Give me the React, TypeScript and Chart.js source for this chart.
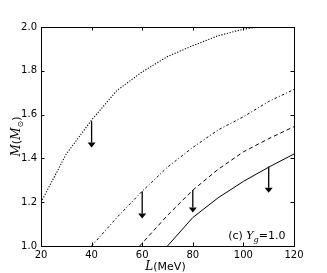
import React, { useEffect, useRef } from "react";
import { Chart, registerables } from "chart.js";

Chart.register(...registerables);

// Curve data: L (MeV) vs M (M_sun)
const dottedL = [20, 30, 40, 50, 60, 70, 80, 90, 100, 106];
const dottedM = [1.2, 1.42, 1.575, 1.71, 1.795, 1.865, 1.915, 1.96, 1.99, 2.0];

const dashDotL = [40, 50, 60, 70, 80, 90, 100, 110, 120];
const dashDotM = [1.0, 1.13, 1.25, 1.36, 1.45, 1.53, 1.59, 1.66, 1.715];

const dashedL = [59, 70, 80, 90, 100, 110, 120];
const dashedM = [1.0, 1.14, 1.255, 1.35, 1.43, 1.49, 1.545];

const solidL = [70, 80, 90, 100, 110, 120];
const solidM = [1.0, 1.13, 1.22, 1.295, 1.36, 1.42];

// Downward arrows (upper limits)
const arrowL = [40, 60, 80, 110];
const arrowFrom = [1.57, 1.25, 1.256, 1.362];
const arrowTo = [1.45, 1.126, 1.153, 1.243];

const xTicks = [20, 40, 60, 80, 100, 120];
const yTicks = [1.0, 1.2, 1.4, 1.6, 1.8, 2.0];

const pts = (xs: number[], ys: number[]) => xs.map((x, i) => ({ x, y: ys[i] }));

const SANS = '"DejaVu Sans"';
const SERIF = '"DejaVu Serif"';

const decorPlugin = {
  id: "decor",
  afterDatasetsDraw(chart: any) {
    const ctx = chart.ctx as CanvasRenderingContext2D;
    const xs = chart.scales.x;
    const ys = chart.scales.y;
    const { left, right, top, bottom } = chart.chartArea;
    ctx.save();
    // arrows
    ctx.strokeStyle = "#000";
    ctx.fillStyle = "#000";
    ctx.lineWidth = 1.3;
    arrowL.forEach((L, i) => {
      const x = xs.getPixelForValue(L);
      const y0 = ys.getPixelForValue(arrowFrom[i]);
      const y1 = ys.getPixelForValue(arrowTo[i]);
      const hh = 5;
      const hw = 4;
      ctx.beginPath();
      ctx.moveTo(x, y0);
      ctx.lineTo(x, y1 - hh);
      ctx.stroke();
      ctx.beginPath();
      ctx.moveTo(x - hw, y1 - hh);
      ctx.lineTo(x + hw, y1 - hh);
      ctx.lineTo(x, y1);
      ctx.closePath();
      ctx.fill();
    });
    // frame
    ctx.lineWidth = 1;
    ctx.strokeStyle = "#000";
    ctx.strokeRect(Math.round(left) + 0.5, Math.round(top) + 0.5, Math.round(right - left), Math.round(bottom - top));
    // inward ticks
    const tl = 3.5;
    ctx.beginPath();
    xTicks.forEach((v) => {
      const x = Math.round(xs.getPixelForValue(v)) + 0.5;
      ctx.moveTo(x, bottom);
      ctx.lineTo(x, bottom - tl);
      ctx.moveTo(x, top);
      ctx.lineTo(x, top + tl);
    });
    yTicks.forEach((v) => {
      const y = Math.round(ys.getPixelForValue(v)) + 0.5;
      ctx.moveTo(left, y);
      ctx.lineTo(left + tl, y);
      ctx.moveTo(right, y);
      ctx.lineTo(right - tl, y);
    });
    ctx.stroke();

    // annotation "(c) Y_g=1.0"
    ctx.fillStyle = "#000";
    ctx.textBaseline = "alphabetic";
    ctx.textAlign = "left";
    let ax = xs.getPixelForValue(94);
    const ab = ys.getPixelForValue(1.03);
    ctx.font = `11px ${SANS}`;
    ctx.fillText("(c) ", ax, ab);
    ax += ctx.measureText("(c) ").width;
    ctx.font = `italic 11px ${SERIF}`;
    ctx.fillText("Y", ax, ab);
    ax += ctx.measureText("Y").width;
    ctx.font = `italic 8px ${SERIF}`;
    ctx.fillText("g", ax, ab + 3);
    ax += ctx.measureText("g").width;
    ctx.font = `11px ${SANS}`;
    ctx.fillText("=1.0", ax, ab);

    // x axis title "L(MeV)"
    const cx = (left + right) / 2 - 2;
    const xb = 270;
    ctx.font = `italic 12px ${SERIF}`;
    const wL = ctx.measureText("L").width;
    ctx.font = `11px ${SANS}`;
    const wR = ctx.measureText("(MeV)").width;
    let tx = cx - (wL + wR) / 2;
    ctx.font = `italic 12px ${SERIF}`;
    ctx.fillText("L", tx, xb);
    tx += wL;
    ctx.font = `11px ${SANS}`;
    ctx.fillText("(MeV)", tx, xb);

    // y axis title "M(M_sun)"
    ctx.save();
    ctx.translate(20, (top + bottom) / 2);
    ctx.rotate(-Math.PI / 2);
    const parts: [string, string, number][] = [
      ["M", `italic 12px ${SERIF}`, 0],
      ["(", `11px ${SANS}`, 0],
      ["M", `italic 12px ${SERIF}`, 0],
      ["\u2299", `8px ${SANS}`, 3],
      [")", `11px ${SANS}`, 0],
    ];
    let total = 0;
    parts.forEach(([t, f]) => {
      ctx.font = f;
      total += ctx.measureText(t).width;
    });
    let px = -total / 2;
    parts.forEach(([t, f, dy]) => {
      ctx.font = f;
      ctx.fillText(t, px, dy);
      px += ctx.measureText(t).width;
    });
    ctx.restore();

    ctx.restore();
  },
};

export default function App() {
  const ref = useRef<HTMLCanvasElement | null>(null);
  useEffect(() => {
    if (!ref.current) return;
    const line = (data: any, dash: number[], width: number) => ({
      data,
      showLine: true,
      borderColor: "#000",
      backgroundColor: "#000",
      borderWidth: width,
      borderDash: dash,
      pointRadius: 0,
      pointHoverRadius: 0,
      tension: 0,
      fill: false,
    });
    const chart = new Chart(ref.current, {
      type: "scatter",
      data: {
        datasets: [
          line(pts(dottedL, dottedM), [1.2, 1.6], 1.1),
          line(pts(dashDotL, dashDotM), [2.5, 2.2, 1, 2.2], 1),
          line(pts(dashedL, dashedM), [4, 3], 1),
          line(pts(solidL, solidM), [], 1),
        ],
      },
      options: {
        responsive: false,
        animation: false,
        events: [],
        layout: { padding: { top: 27, right: 33, left: 0, bottom: 0 } },
        plugins: { legend: { display: false }, tooltip: { enabled: false } },
        scales: {
          x: {
            type: "linear",
            min: 20,
            max: 120,
            grid: { display: false, drawTicks: false },
            border: { display: false },
            afterFit: (s: any) => {
              s.height = 27;
            },
            afterBuildTicks: (s: any) => {
              s.ticks = xTicks.map((v) => ({ value: v }));
            },
            ticks: {
              padding: 3,
              color: "#000",
              font: { family: "DejaVu Sans", size: 10 },
              callback: (v: any) => String(v),
            },
          },
          y: {
            type: "linear",
            min: 1.0,
            max: 2.0,
            grid: { display: false, drawTicks: false },
            border: { display: false },
            afterFit: (s: any) => {
              s.width = 41;
            },
            afterBuildTicks: (s: any) => {
              s.ticks = yTicks.map((v) => ({ value: v }));
            },
            ticks: {
              padding: 4,
              color: "#000",
              font: { family: "DejaVu Sans", size: 10 },
              callback: (v: any) => Number(v).toFixed(1),
            },
          },
        },
      },
      plugins: [decorPlugin],
    });
    return () => chart.destroy();
  }, []);
  return (
    <div style={{ position: "absolute", left: 0, top: 0, width: 327, height: 273, background: "#fff" }}>
      <canvas ref={ref} width={327} height={273} style={{ display: "block" }} />
    </div>
  );
}
